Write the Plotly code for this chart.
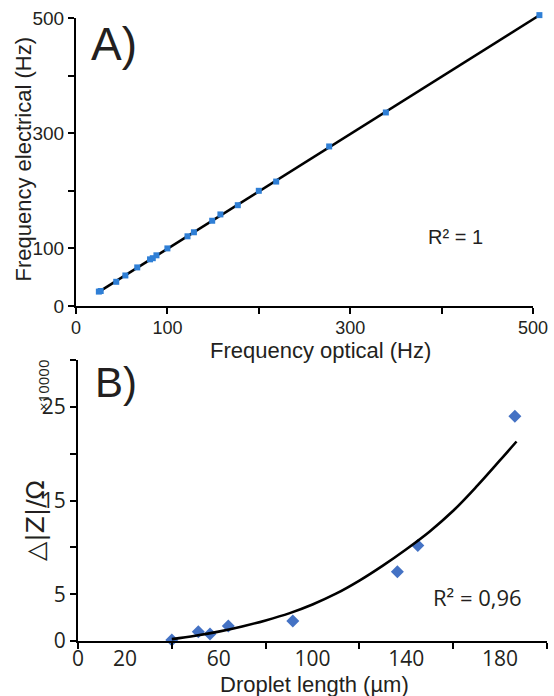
import numpy as np
import plotly.graph_objects as go

W, H = 554, 696

# ---------------- Panel A data ----------------
freq_optical = [25, 27, 44, 54, 67, 81, 84, 88, 100, 122, 129, 149, 158, 177, 200, 219, 277, 339, 507]
freq_electrical = [25, 26, 42, 53, 67, 81, 83, 88, 100, 121, 128, 148, 159, 175, 200, 216, 277, 336, 505]
A_tickvals = [0, 100, 200, 300, 400, 500]
A_ticktext = ["0", "100", "", "300", "", "500"]

# ---------------- Panel B data ----------------
droplet_length = [40, 51.3, 56.3, 64.1, 91.6, 136.2, 144.9, 186.3]
delta_z = [0.1, 1.0, 0.75, 1.6, 2.14, 7.4, 10.2, 24.0]
# trendline
trend_x = [40, 50, 60, 70, 80, 90, 100, 110, 120, 130, 140, 150, 160, 170, 180, 187]
trend_y = [0.2, 0.56, 1.0, 1.55, 2.2, 2.95, 3.9, 5.05, 6.45, 8.05, 9.8, 11.7, 13.9, 16.5, 19.3, 21.3]
B_ytickvals = [0, 5, 10, 15, 20, 25, 30]
B_yticktext = ["0", "5", "", "15", "", "25", ""]
B_xtickvals = [0, 40, 80, 120, 160, 200]
B_xlabelvals = [0, 20, 60, 100, 140, 180]

# linear fit for panel A
slope, intercept = np.polyfit(freq_optical, freq_electrical, 1)
fit_x = [min(freq_optical), max(freq_optical)]
fit_y = [slope * v + intercept for v in fit_x]

ARIAL = "Liberation Sans, Arial, sans-serif"
CAL = "Open Sans, sans-serif"
TXT = "#231f20"
BLUE_A = "#2f7fd6"
BLUE_B = "#4472c4"

# pixel layout of panel A axes (0..500 on both)
AX0, AX1 = 76, 533      # x pixels of 0 and 500
AY0, AY1 = 306, 18      # y pixels of 0 and 500
A_MAX = 500
A_EXT = 515             # extended range for the data layer so edge points are not clipped
ax_ext = AX0 + (AX1 - AX0) * A_EXT / A_MAX
ay_ext = AY0 - (AY0 - AY1) * A_EXT / A_MAX

fig = go.Figure()
# invisible copy on the visible panel-A axes so that those axes are drawn
fig.add_trace(go.Scatter(x=freq_optical, y=freq_electrical, mode="markers",
                         marker=dict(size=1, opacity=0), xaxis="x", yaxis="y",
                         showlegend=False, hoverinfo="skip"))
fig.add_trace(go.Scatter(x=fit_x, y=fit_y, mode="lines", line=dict(color="black", width=2.6),
                         xaxis="x4", yaxis="y3", cliponaxis=False, showlegend=False, hoverinfo="skip"))
fig.add_trace(go.Scatter(x=freq_optical, y=freq_electrical, mode="markers",
                         marker=dict(symbol="square", size=6, color=BLUE_A),
                         xaxis="x4", yaxis="y3", cliponaxis=False, showlegend=False))
fig.add_trace(go.Scatter(x=trend_x, y=trend_y, mode="lines", line=dict(color="black", width=2.6, shape="spline"),
                         xaxis="x3", yaxis="y2", cliponaxis=False, showlegend=False, hoverinfo="skip"))
fig.add_trace(go.Scatter(x=droplet_length, y=delta_z, mode="markers",
                         marker=dict(symbol="diamond", size=10, color=BLUE_B),
                         xaxis="x2", yaxis="y2", cliponaxis=False, showlegend=False))

ax_common = dict(showgrid=False, zeroline=False, showline=True, linecolor="black", linewidth=2,
                 ticks="outside", ticklen=6, tickwidth=1.5, tickcolor="black", fixedrange=True,
                 automargin=False)
hidden = dict(visible=False, showgrid=False, zeroline=False, fixedrange=True, automargin=False)

fig.update_layout(
    template="none",
    width=W, height=H, margin=dict(l=0, r=0, t=0, b=0, pad=0), autosize=False,
    paper_bgcolor="white", plot_bgcolor="rgba(0,0,0,0)",
    xaxis=dict(**ax_common, domain=[AX0 / W, AX1 / W], range=[0, A_MAX], anchor="y",
               tickmode="array", tickvals=A_tickvals, ticktext=A_ticktext, ticklabelstandoff=-2,
               tickfont=dict(family=ARIAL, size=18, color=TXT)),
    yaxis=dict(**ax_common, domain=[1 - AY0 / H, 1 - AY1 / H], range=[0, A_MAX], anchor="x",
               tickmode="array", tickvals=A_tickvals, ticktext=A_ticktext,
               tickfont=dict(family=ARIAL, size=19, color=TXT)),
    xaxis4=dict(**hidden, domain=[AX0 / W, ax_ext / W], range=[0, A_EXT], anchor="y3"),
    yaxis3=dict(**hidden, domain=[1 - AY0 / H, 1 - ay_ext / H], range=[0, A_EXT], anchor="x4"),
    xaxis2=dict(**ax_common, domain=[78 / W, 547 / W], range=[0, 200], anchor="y2",
                tickmode="array", tickvals=B_xtickvals, showticklabels=False),
    xaxis3=dict(showgrid=False, zeroline=False, showline=False, overlaying="x2", anchor="y2",
                range=[0, 200], tickmode="array", tickvals=B_xlabelvals, ticks="", side="bottom",
                ticklabelstandoff=3, automargin=False,
                tickfont=dict(family=CAL, size=21, color=TXT), fixedrange=True),
    yaxis2=dict(**ax_common, domain=[1 - 641 / H, 1 - 360 / H], range=[0, 30], anchor="x2",
                tickmode="array", tickvals=B_ytickvals, ticktext=B_yticktext,
                tickfont=dict(family=CAL, size=21, color=TXT)),
)

def ann(text, x, y, size, family, angle=0):
    fig.add_annotation(text=text, x=x / W, y=1 - y / H, xref="paper", yref="paper",
                       showarrow=False, textangle=angle, xanchor="center", yanchor="middle",
                       font=dict(family=family, size=size, color=TXT))

ann("Frequency electrical (Hz)", 23, 159.5, 22, ARIAL, -90)
ann("Frequency optical (Hz)", 320, 350, 22, ARIAL)
ann("Droplet length (µm)", 314, 684, 22, ARIAL)
ann("△|Z|/Ω", 35, 521, 25, "DejaVu Sans", -90)
ann("×10000", 43, 386, 15, CAL, -90)
ann("A)", 113.5, 44, 46, ARIAL)
ann("B)", 116, 382, 42, ARIAL)
ann("R² = 1", 455, 237, 20, ARIAL)
ann("R² = 0,96", 477, 596.5, 22, CAL)

fig.write_html("out.html")
